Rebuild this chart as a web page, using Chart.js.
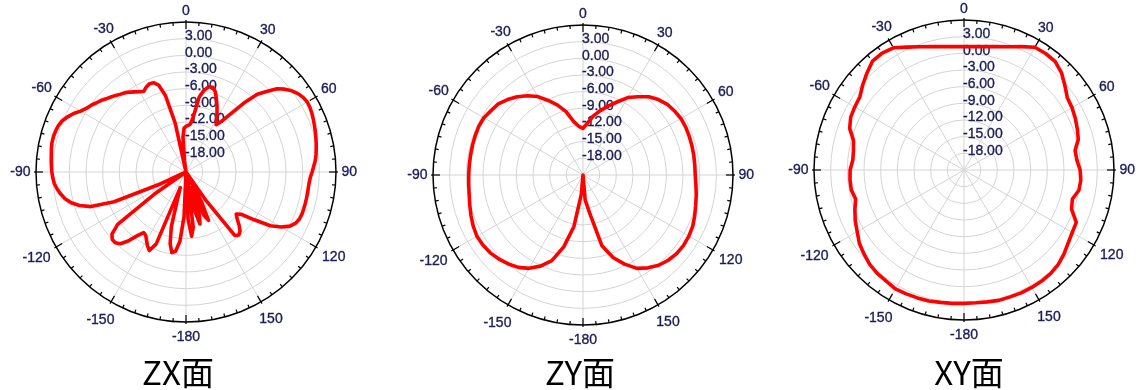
<!DOCTYPE html>
<html>
<head>
<meta charset="utf-8">
<script src="https://cdn.jsdelivr.net/npm/chart.js@4.4.1/dist/chart.umd.min.js"></script>
<style>
  html, body { margin: 0; padding: 0; background: #fff; width: 1138px; height: 390px; overflow: hidden; }
  .plot { position: absolute; top: 0; }
  .title {
    position: absolute; top: 355px;
    font-family: "Noto Sans CJK SC", sans-serif; font-size: 33px; line-height: 33px;
    color: #000; white-space: nowrap; transform: translateX(-50%);
  }
</style>
</head>
<body>
<canvas id="zx" class="plot" width="360" height="390" style="left:6px"></canvas>
<canvas id="zy" class="plot" width="360" height="390" style="left:403px"></canvas>
<canvas id="xy" class="plot" width="360" height="390" style="left:784px"></canvas>
<div class="title" style="left:178px">ZX面</div>
<div class="title" style="left:580px">ZY面</div>
<div class="title" style="left:969px">XY面</div>
<script>
// Radial (gain, dB) axis
const scaleMin = -21;
const scaleMax = 6;
const scaleStep = 3;
const radialTickLabels = [-18, -15, -12, -9, -6, -3, 0, 3];
// Angle axis labels (degrees, clockwise from top)
const angleTickLabels = [0, 30, 60, 90, 120, 150, -180, -150, -120, -90, -60, -30];

// ZX plane gain, 2.5 deg steps starting at 0 deg, clockwise
const zxGain = [
  -12.8, -12.6, -12.4, -11.0, -7.3, -5.9, -5.1, -5.0, -5.6, -6.7,
  -7.8, -8.9, -10.0, -10.9, -9.9, -7.8, -4.8, -2.0, -0.5, 1.2,
  2.2, 3.0, 3.6, 4.0, 4.2, 4.15, 4.0, 3.8, 3.6, 3.4,
  3.2, 3.0, 2.8, 2.6, 2.35, 2.0, 1.7, 1.4, 1.25, 1.2,
  1.2, 1.2, 1.2, 1.2, 1.2, 1.1, 0.8, 0.1, -1.2, -3.0,
  -6.0, -8.5, -9.2, -8.5, -7.5, -6.6, -6.2, -6.6, -15, -21,
  -21, -15, -11.4, -12.5, -18, -13, -11.3, -14, -20, -11,
  -9.4, -12.5, -21,
  -13, -8.5, -6.6, -6.3, -7.8, -10.8, -16, -18, -7, -5.4,
  -6.0, -6.8, -7.5, -7.7, -6.5, -4.8, -3.5, -3.0, -3.0, -3.6,
  -5.5, -14, -21, -21, -21, -16, -7, -2.8, -0.9, 0.4,
  1.3, 1.9, 2.4, 2.8, 3.0, 3.15, 3.25, 3.35, 3.45, 3.6,
  3.7, 3.7, 3.6, 3.45, 3.1, 2.5, 1.8, 0.9, 0.3, -0.1,
  -0.6, -1.0, -1.5, -1.9, -2.3, -2.7, -3.0, -3.45, -3.9, -4.3,
  -4.6, -4.1, -3.8, -3.9, -4.6, -6.8, -12, -21, -19, -14.7,
  -13.1
];

// ZY plane gain, 5 deg steps starting at 0 deg, clockwise
const zyGain = [
  -12.6, -11.6, -10.2, -9.0, -7.8, -6.5, -4.9, -3.8, -2.6, -1.8,
  -1.2, -0.9, -0.65, -0.6, -0.65, -0.7, -0.75, -0.8, -0.8, -0.6,
  -0.3, 0.0, 0.4, 0.8, 1.0, 1.1, 1.0, 0.7, 0.2, -0.6,
  -1.6, -3.3, -5.2, -7.8, -14, -16.5, -21,
  -17.5, -11.6, -7.6, -4.6, -2.9, -1.6, -0.7, -0.1, 0.4, 0.8,
  1.0, 1.05, 0.8, 0.45, 0.1, -0.2, -0.35, -0.43, -0.45, -0.45,
  -0.4, -0.35, -0.3, -0.4, -0.8, -1.1, -1.8, -2.6, -3.6, -4.7,
  -6.2, -7.6, -9.2, -11.2, -12.2
];

// XY plane gain, 5 deg steps starting at 0 deg, clockwise
const xyGain = [
  1.2, 1.3, 1.55, 2.0, 2.6, 3.5, 4.5, 4.6, 4.5, 3.8,
  2.7, 1.7, 1.45, 1.1, 0.7, 0.3, -0.7, -0.6, -0.1, 0.1,
  0.0, -0.8, -0.4, 1.3, 1.5, 1.9, 2.5, 3.0, 3.3, 3.4,
  3.4, 3.4, 3.3, 3.3, 3.1, 3.0, 3.0,
  3.1, 3.2, 3.4, 3.5, 3.6, 3.7, 3.4, 3.3, 3.0, 2.5,
  2.0, 1.2, 0.6, -0.1, -0.8, -0.4, -0.4, -0.5, -0.9, -0.8,
  -0.4, 0.9, 1.5, 1.7, 1.9, 2.8, 3.7, 4.6, 4.7, 4.4,
  3.4, 2.6, 2.0, 1.55, 1.3
];

// Angle categories for n evenly spaced samples, shown as -180..180
function angleCategories(n) {
  const step = 360 / n;
  const out = [];
  for (let i = 0; i < n; i++) {
    let a = i * step;
    if (a >= 180) a -= 360;
    out.push(String(a));
  }
  return out;
}

const gridGray = '#d4d4d4';
const labelColor = '#1c1c58';
const labelFont = '14px "Liberation Sans", Arial, sans-serif';

// Text with a faint outline in its own colour, for a slightly heavier stroke
function heavyText(ctx, txt, x, y) {
  ctx.fillText(txt, x, y);
  ctx.strokeText(txt, x, y);
}

// Outer ring, degree ticks, angle labels and gain labels
const polarFrame = {
  id: 'polarFrame',
  beforeDatasetsDraw(chart) {
    const s = chart.scales.r;
    const ctx = chart.ctx;
    const cx = s.xCenter, cy = s.yCenter;
    const R = s.getDistanceFromCenterForValue(scaleMax);
    ctx.save();

    ctx.font = labelFont;
    ctx.fillStyle = labelColor;
    ctx.strokeStyle = labelColor;
    ctx.lineWidth = 0.35;
    ctx.textAlign = 'left';
    ctx.textBaseline = 'middle';
    radialTickLabels.forEach(v => {
      const d = s.getDistanceFromCenterForValue(v);
      heavyText(ctx, v.toFixed(2), cx - 1, cy - d - 2.5);
    });

    ctx.textAlign = 'center';
    angleTickLabels.forEach(a => {
      const t = a * Math.PI / 180;
      const sx = Math.sin(t), c = Math.cos(t);
      const txt = String(a);
      const w = ctx.measureText(txt).width;
      const d = R + 5.5 + (w / 2) * Math.abs(sx) + 5 * Math.abs(c) + (c < 0 ? -5 * c : 0);
      heavyText(ctx, txt, cx + sx * d, cy - c * d);
    });

    ctx.strokeStyle = '#000';
    ctx.lineWidth = 1.5;
    ctx.beginPath();
    ctx.arc(cx, cy, R, 0, Math.PI * 2);
    ctx.stroke();

    ctx.lineWidth = 1.2;
    for (let a = 0; a < 360; a += 5) {
      const t = a * Math.PI / 180;
      const ux = Math.sin(t), uy = -Math.cos(t);
      const major = a % 30 === 0;
      const r0 = major ? R - 7 : R - 3.5;
      const r1 = major ? R + 2 : R;
      ctx.beginPath();
      ctx.moveTo(cx + ux * r0, cy + uy * r0);
      ctx.lineTo(cx + ux * r1, cy + uy * r1);
      ctx.stroke();
    }
    ctx.restore();
  }
};

function makePolar(id, values, cy) {
  const top = cy - 150;
  new Chart(document.getElementById(id), {
    type: 'radar',
    data: {
      labels: angleCategories(values.length),
      datasets: [{
        data: values,
        borderColor: '#ff0000',
        borderWidth: 3.6,
        borderJoinStyle: 'round',
        borderCapStyle: 'round',
        pointRadius: 0,
        pointHoverRadius: 0,
        fill: false,
        tension: 0
      }]
    },
    options: {
      responsive: false,
      animation: false,
      devicePixelRatio: 1,
      layout: { padding: { left: 30, right: 30, top: top, bottom: 390 - top - 300 } },
      plugins: { legend: { display: false }, tooltip: { enabled: false } },
      events: [],
      scales: {
        r: {
          min: scaleMin,
          max: scaleMax,
          startAngle: 0,
          ticks: { display: false, stepSize: scaleStep },
          pointLabels: { display: false },
          grid: {
            circular: true,
            lineWidth: 1,
            color: c => (c.tick && c.tick.value === scaleMax) ? 'rgba(0,0,0,0)' : gridGray
          },
          angleLines: {
            color: gridGray,
            lineWidth: c => (Number(c.label) % 30 === 0) ? 1 : 0
          }
        }
      }
    },
    plugins: [polarFrame]
  });
}

makePolar('zx', zxGain, 172);
makePolar('zy', zyGain, 175);
makePolar('xy', xyGain, 170);
</script>
</body>
</html>
